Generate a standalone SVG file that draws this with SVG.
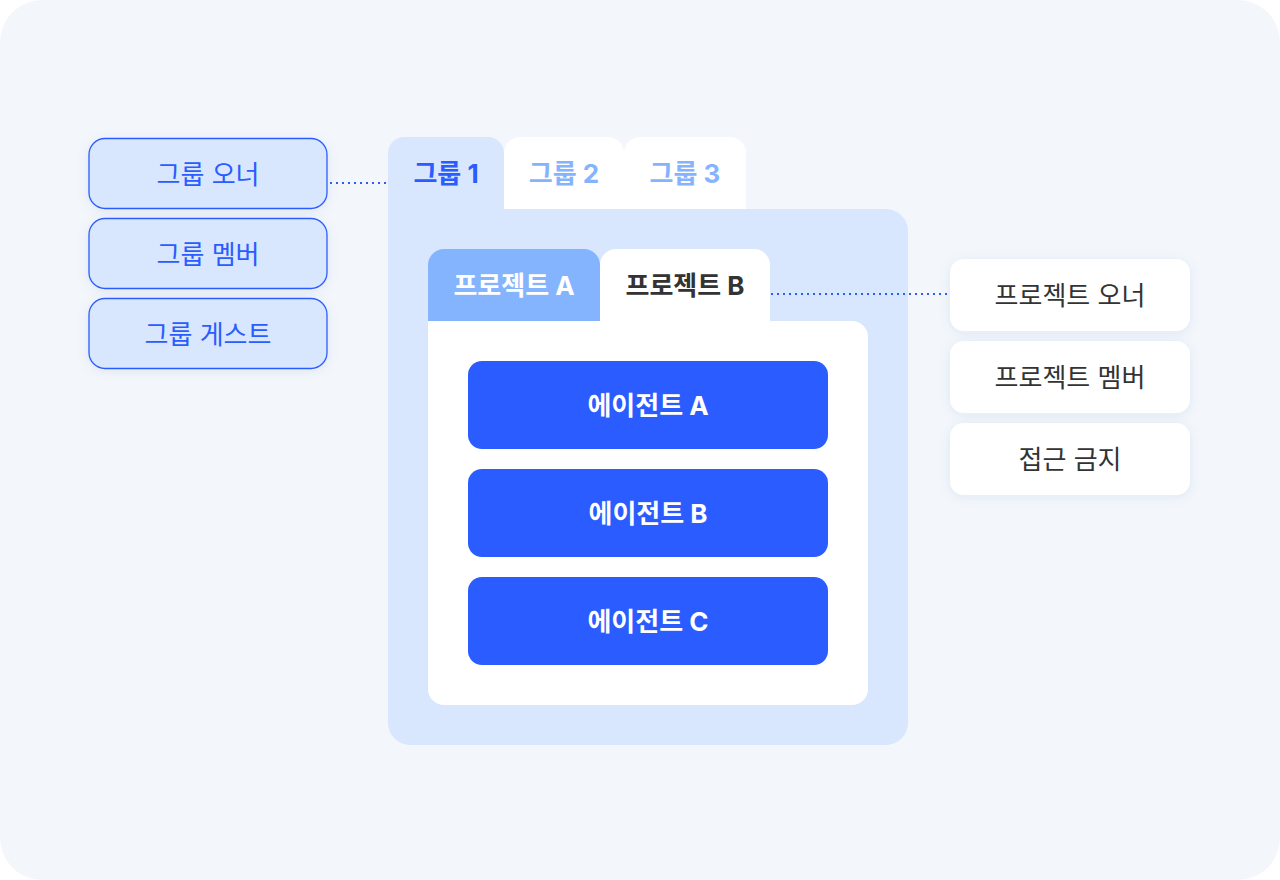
<svg xmlns="http://www.w3.org/2000/svg" width="1280" height="880" viewBox="0 0 1280 880">
<defs>
<style>
text{font-family:"Inter","Noto Sans CJK KR","Noto Sans",sans-serif;font-size:26px;text-anchor:middle;dominant-baseline:central}
.lbox{fill:#d8e7fd;stroke:#2a5cff;stroke-width:1.3}
.lt{fill:#2a5cff;font-weight:400}
.rbox{fill:#ffffff}
.rt{fill:#333333;font-weight:400}
.agent{fill:#2a5cff}
.at{fill:#ffffff;font-weight:700}
.tab{font-weight:700}
.dot{stroke:#2a5cff;stroke-width:2;stroke-dasharray:2 4;fill:none}
</style>
<filter id="sh" x="-20%" y="-30%" width="140%" height="160%">
<feDropShadow dx="0" dy="2" stdDeviation="6" flood-color="#1a3a80" flood-opacity="0.08"/>
</filter>
</defs>
<rect x="0" y="0" width="1280" height="880" fill="#ffffff"/>
<rect x="0" y="0" width="1280" height="880" rx="42" fill="#f3f7fc"/>

<g id="group-panel">
<path d="M388 153 a16 16 0 0 1 16 -16 h84 a16 16 0 0 1 16 16 v56 h382 a22 22 0 0 1 22 22 v492 a22 22 0 0 1 -22 22 h-476 a22 22 0 0 1 -22 -22 z" fill="#d8e7fd"/>
<text class="tab" x="446" y="173" fill="#2a5cff">그룹 1</text>
</g>
<g id="tab-group2">
<path d="M504 209 v-56 a16 16 0 0 1 16 -16 h88 a16 16 0 0 1 16 16 v56 z" fill="#ffffff"/>
<text class="tab" x="564" y="173" fill="#85b4ff">그룹 2</text>
</g>
<g id="tab-group3">
<path d="M624 209 v-56 a16 16 0 0 1 16 -16 h90 a16 16 0 0 1 16 16 v56 z" fill="#ffffff"/>
<text class="tab" x="685" y="173" fill="#85b4ff">그룹 3</text>
</g>

<g id="tab-projectA">
<path d="M428 321 v-56 a16 16 0 0 1 16 -16 h140 a16 16 0 0 1 16 16 v56 z" fill="#85b4ff"/>
<text class="tab" x="514" y="285" fill="#ffffff">프로젝트 A</text>
</g>
<g id="project-panel">
<path d="M600 321 v-56 a16 16 0 0 1 16 -16 h138 a16 16 0 0 1 16 16 v56 h82 a16 16 0 0 1 16 16 v352 a16 16 0 0 1 -16 16 h-408 a16 16 0 0 1 -16 -16 v-368 z" fill="#ffffff"/>
<text class="tab" x="685" y="285" fill="#333333">프로젝트 B</text>
</g>

<g id="agent-a"><rect class="agent" x="468" y="361" width="360" height="88" rx="14"/><text class="at" x="648" y="405">에이전트 A</text></g>
<g id="agent-b"><rect class="agent" x="468" y="469" width="360" height="88" rx="14"/><text class="at" x="648" y="513">에이전트 B</text></g>
<g id="agent-c"><rect class="agent" x="468" y="577" width="360" height="88" rx="14"/><text class="at" x="648" y="621">에이전트 C</text></g>

<g id="group-owner"><rect class="lbox" x="89" y="138.5" width="238" height="70" rx="16" filter="url(#sh)"/><text class="lt" x="208" y="174">그룹 오너</text></g>
<g id="group-member"><rect class="lbox" x="89" y="218.5" width="238" height="70" rx="16" filter="url(#sh)"/><text class="lt" x="208" y="254">그룹 멤버</text></g>
<g id="group-guest"><rect class="lbox" x="89" y="298.5" width="238" height="70" rx="16" filter="url(#sh)"/><text class="lt" x="208" y="334">그룹 게스트</text></g>

<g id="project-owner"><rect class="rbox" x="950" y="259" width="240" height="72" rx="14" filter="url(#sh)"/><text class="rt" x="1070" y="295">프로젝트 오너</text></g>
<g id="project-member"><rect class="rbox" x="950" y="341" width="240" height="72" rx="14" filter="url(#sh)"/><text class="rt" x="1070" y="377">프로젝트 멤버</text></g>
<g id="no-access"><rect class="rbox" x="950" y="423" width="240" height="72" rx="14" filter="url(#sh)"/><text class="rt" x="1070" y="459">접근 금지</text></g>

<g id="connectors">
<line class="dot" x1="330" y1="183" x2="388" y2="183"/>
<line class="dot" x1="771" y1="294" x2="950" y2="294"/>
</g>
</svg>
